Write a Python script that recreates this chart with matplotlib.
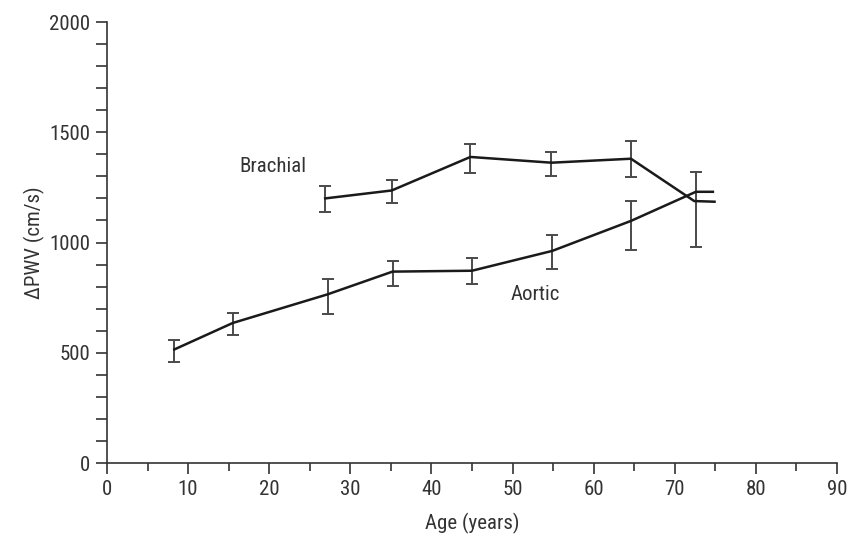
import numpy as np
import matplotlib.pyplot as plt
from matplotlib.ticker import MultipleLocator
from matplotlib import font_manager

# Aortic series (age, value, error bar bounds)
aortic_age = [8.3, 15.5, 27.2, 35.2, 45.0, 54.9, 64.6, 72.6, 74.7]
aortic_pwv = [515, 635, 765, 868, 872, 962, 1098, 1230, 1230]
aortic_lo = [458, 582, 676, 802, 813, 878, 968, 978, None]
aortic_hi = [560, 682, 835, 918, 930, 1036, 1190, 1318, None]

# Brachial series
brachial_age = [26.9, 35.1, 44.8, 54.8, 64.6, 72.4, 74.9]
brachial_pwv = [1200, 1236, 1388, 1362, 1380, 1188, 1185]
brachial_lo = [1140, 1180, 1313, 1300, 1298, None, None]
brachial_hi = [1258, 1282, 1445, 1412, 1460, None, None]

# condensed face if there is one
names = {f.name for f in font_manager.fontManager.ttflist}
narrow = [n for n in ['Roboto Condensed', 'Liberation Sans Narrow', 'Open Sans Condensed',
                      'DejaVu Sans Condensed'] if n in names]
plt.rcParams['font.family'] = narrow + ['Liberation Sans', 'DejaVu Sans']
fs = 15 if narrow else 14

fig = plt.figure(figsize=(8.48, 5.37), dpi=100)
ax = fig.add_axes([0.1262, 0.1378, 0.8608, 0.8212])


def draw_series(age, pwv, lo, hi):
    ax.plot(age, pwv, color='#1a1a1a', lw=1.8, zorder=3)
    for a, v, l, h in zip(age, pwv, lo, hi):
        if l is None:
            continue
        ax.errorbar([a], [v], yerr=[[v - l], [h - v]], fmt='none',
                    ecolor='#4a4a4a', elinewidth=1.4, capsize=4, capthick=1.4, zorder=2)


draw_series(aortic_age, aortic_pwv, aortic_lo, aortic_hi)
draw_series(brachial_age, brachial_pwv, brachial_lo, brachial_hi)

ax.text(20.4, 1344, 'Brachial', fontsize=fs, color='#333333', ha='center', va='center')
ax.text(52.8, 766, 'Aortic', fontsize=fs, color='#333333', ha='center', va='center')

ax.set_xlim(0, 90)
ax.set_ylim(0, 2000)
ax.xaxis.set_major_locator(MultipleLocator(10))
ax.xaxis.set_minor_locator(MultipleLocator(5))
ax.yaxis.set_major_locator(MultipleLocator(500))
ax.yaxis.set_minor_locator(MultipleLocator(100))
ax.tick_params(which='major', length=8, width=1.2, color='#333333', labelsize=fs,
               labelcolor='#333333', pad=4)
ax.tick_params(which='minor', length=6, width=1.2, color='#333333')
ax.tick_params(axis='y', which='minor', length=8)

for s in ['top', 'right']:
    ax.spines[s].set_visible(False)
for s in ['left', 'bottom']:
    ax.spines[s].set_linewidth(1.2)
    ax.spines[s].set_color('#333333')

ax.set_xlabel('Age (years)', fontsize=fs, color='#333333', labelpad=10)
ax.set_ylabel('\u0394PWV (cm/s)', fontsize=fs, color='#333333', labelpad=3)

fig.savefig('out.png', dpi=100)
